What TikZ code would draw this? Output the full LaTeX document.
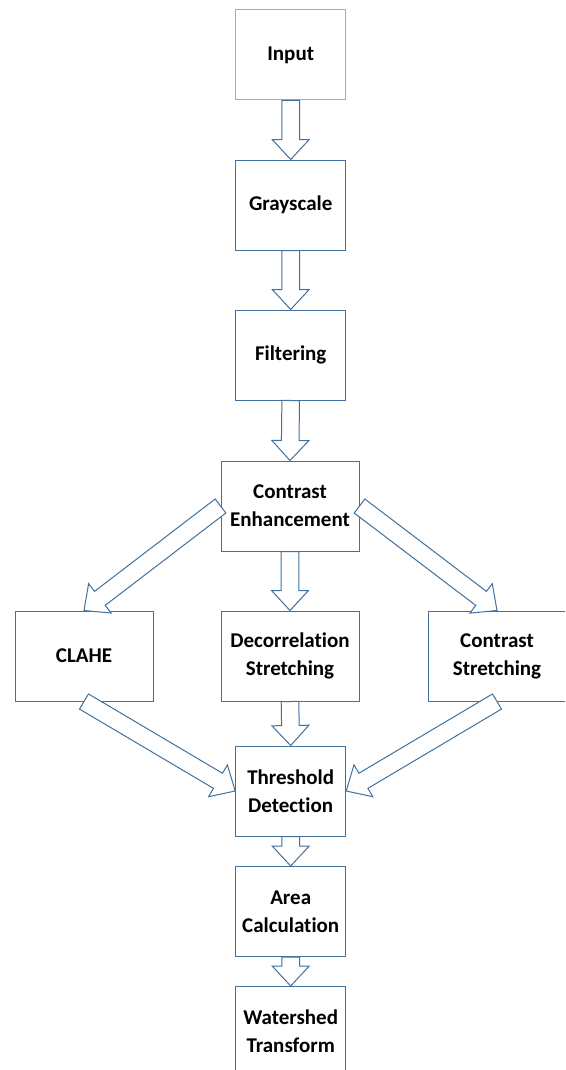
\documentclass[tikz,border=0pt]{standalone}
\usepackage{fontspec}
\setmainfont{Carlito}[Ligatures=NoCommon]
\usetikzlibrary{calc}
\definecolor{edgeblue}{RGB}{65,113,156}
\definecolor{lightedge}{RGB}{140,178,220}
\tikzset{
  box/.style={draw=edgeblue, line width=1pt, fill=white, rectangle, inner sep=0pt,
    minimum width=110pt, minimum height=90pt, align=center,
    font=\fontsize{21}{28}\selectfont\bfseries, text=black},
  widebox/.style={box, minimum width=138pt},
  barrow/.style={draw=edgeblue, line width=1pt, fill=white, line join=miter},
}
\newcommand{\blockarrow}[2]{%
  \draw[barrow] let \p1=(#1), \p2=(#2),
    \n1={atan2(\y2-\y1,\x2-\x1)}, \n2={veclen(\x2-\x1,\y2-\y1)} in
    [shift={(\p1)}, rotate=\n1]
    (0,8.8) -- (\n2-20,8.8) -- (\n2-20,18.5) -- (\n2,0) -- (\n2-20,-18.5)
    -- (\n2-20,-8.8) -- (0,-8.8) -- cycle;}
\begin{document}
\begin{tikzpicture}[x=1pt, y=-1pt]
\clip (0,0) rectangle (565,1070);
\fill[white] (0,0) rectangle (565,1070);
\node[box, draw=lightedge] (input) at (290.7,55) {Input};
\node[box] (gray) at (290.7,205) {Grayscale};
\node[box] (filt) at (290.7,355) {Filtering};
\node[widebox] (ce) at (290,506) {Contrast\\Enhancement};
\node[widebox] (clahe) at (84,656) {CLAHE};
\node[widebox] (decor) at (290,656) {Decorrelation\\Stretching};
\node[widebox] (cs) at (497,656) {Contrast\\Stretching};
\node[box] (thr) at (290.7,791) {Threshold\\Detection};
\node[box] (area) at (290.7,911.5) {Area\\Calculation};
\node[box] (ws) at (290.7,1031.5) {Watershed\\Transform};
\blockarrow{input.south}{gray.north}
\blockarrow{gray.south}{filt.north}
\blockarrow{filt.south}{ce.north}
\blockarrow{ce.west}{clahe.north}
\blockarrow{ce.south}{decor.north}
\blockarrow{ce.east}{cs.north}
\blockarrow{clahe.south}{thr.west}
\blockarrow{decor.south}{thr.north}
\blockarrow{cs.south}{thr.east}
\blockarrow{thr.south}{area.north}
\blockarrow{area.south}{ws.north}
\end{tikzpicture}
\end{document}
